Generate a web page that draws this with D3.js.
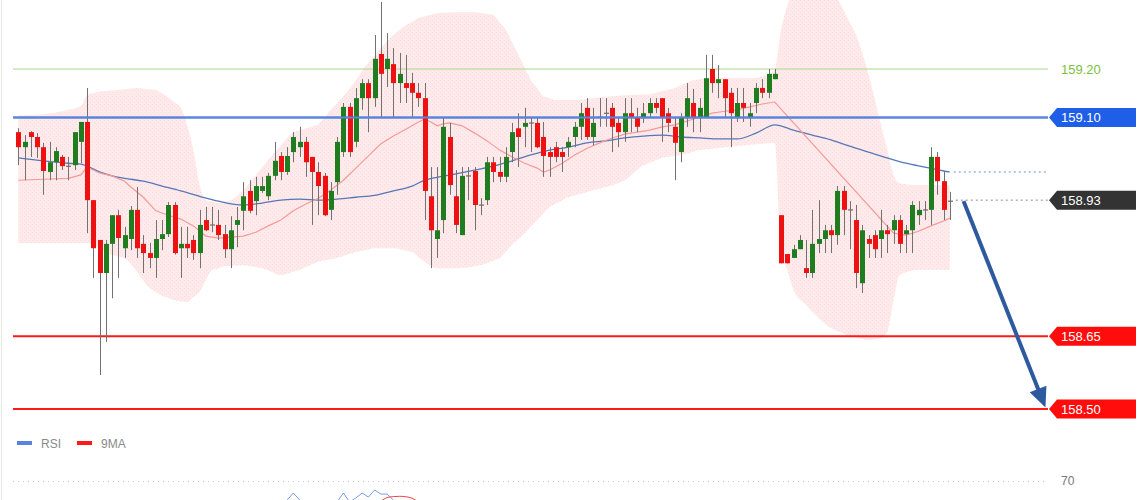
<!DOCTYPE html>
<html><head><meta charset="utf-8">
<script src="https://cdn.jsdelivr.net/npm/d3@7"></script>
<style>html,body{margin:0;padding:0;background:#fff;overflow:hidden}svg{display:block}</style>
</head><body>
<svg id="c" width="1140" height="500"></svg>
<script>
// ---- candles: [open, high, low, close]
const ohlc = [
[159.070,159.078,159.002,159.039],[159.039,159.064,158.971,159.050],[159.070,159.072,159.019,159.060],[159.060,159.068,159.017,159.039],
[159.039,159.048,158.941,158.990],[158.988,159.050,158.971,159.008],[159.008,159.039,158.971,159.031],[159.019,159.023,158.992,159.000],
[159.002,159.019,158.971,158.998],[159.002,159.070,158.992,159.070],[159.050,159.091,159.006,159.091],[159.091,159.161,158.862,158.930],
[158.930,158.930,158.770,158.831],[158.848,158.848,158.570,158.780],[158.780,158.848,158.638,158.840],[158.840,158.899,158.728,158.899],
[158.899,158.910,158.770,158.852],[158.831,158.875,158.811,158.858],[158.850,158.918,158.827,158.910],[158.910,158.957,158.811,158.831],
[158.840,158.858,158.780,158.821],[158.821,158.842,158.790,158.811],[158.811,158.889,158.770,158.850],[158.850,158.889,158.827,158.860],
[158.860,158.926,158.854,158.920],[158.920,158.926,158.818,158.821],[158.831,158.875,158.770,158.840],[158.840,158.875,158.811,158.831],
[158.848,158.858,158.807,158.821],[158.821,158.910,158.790,158.879],[158.889,158.916,158.866,158.868],[158.881,158.916,158.864,158.877],
[158.879,158.910,158.848,158.858],[158.860,158.879,158.811,158.829],[158.829,158.897,158.790,158.868],[158.879,158.916,158.833,158.889],
[158.908,158.967,158.868,158.938],[158.949,158.971,158.903,158.908],[158.928,158.978,158.899,158.959],[158.949,158.978,158.945,158.959],
[158.938,158.986,158.930,158.980],[158.980,159.050,158.971,159.011],[159.021,159.029,158.971,158.988],[158.988,159.039,158.982,159.021],
[159.029,159.070,159.008,159.060],[159.039,159.081,159.019,159.050],[159.050,159.060,158.978,159.008],[159.019,159.019,158.879,158.988],
[158.988,159.008,158.899,158.959],[158.980,158.986,158.897,158.899],[158.910,158.967,158.889,158.949],[158.967,159.060,158.941,159.050],
[159.029,159.130,159.019,159.122],[159.122,159.130,159.019,159.029],[159.050,159.161,159.039,159.140],[159.140,159.179,159.116,159.171],
[159.171,159.179,159.070,159.140],[159.140,159.270,159.122,159.221],[159.231,159.338,159.101,159.190],[159.200,159.274,159.163,159.221],
[159.210,159.243,159.101,159.171],[159.171,159.233,159.130,159.190],[159.171,159.229,159.130,159.161],[159.171,159.192,159.101,159.151],
[159.151,159.171,159.122,159.140],[159.140,159.171,158.889,158.949],[158.938,158.998,158.790,158.868],[158.850,158.998,158.811,158.868],
[158.889,159.099,158.862,159.081],[159.060,159.089,158.941,158.961],[158.938,158.992,158.862,158.879],[158.858,158.998,158.858,158.980],
[158.982,158.998,158.930,158.978],[158.990,158.998,158.868,158.920],[158.922,158.934,158.899,158.918],[158.930,159.019,158.920,159.008],
[159.008,159.019,158.967,158.988],[158.988,159.019,158.967,158.978],[158.978,159.039,158.967,159.019],[159.029,159.089,159.008,159.070],
[159.078,159.109,158.998,159.060],[159.081,159.120,159.039,159.089],[159.091,159.099,159.029,159.087],[159.089,159.099,159.037,159.039],
[159.060,159.091,158.978,159.021],[159.029,159.039,158.978,159.019],[159.039,159.050,159.008,159.019],[159.029,159.039,158.988,159.019],
[159.039,159.060,159.019,159.050],[159.060,159.091,159.039,159.081],[159.081,159.130,159.054,159.109],[159.120,159.140,159.054,159.060],
[159.060,159.120,159.043,159.089],[159.103,159.140,159.081,159.099],[159.111,159.140,159.081,159.107],[159.120,159.130,159.029,159.081],
[159.089,159.101,159.039,159.070],[159.070,159.140,159.050,159.109],[159.109,159.140,159.070,159.101],[159.101,159.120,159.070,159.081],
[159.101,159.130,159.089,159.109],[159.109,159.140,159.101,159.130],[159.130,159.140,159.109,159.120],[159.140,159.140,159.050,159.101],
[159.109,159.120,159.070,159.089],[159.081,159.101,158.971,159.048],[159.029,159.109,159.008,159.101],[159.101,159.171,159.081,159.140],
[159.130,159.159,159.070,159.101],[159.101,159.140,159.070,159.120],[159.101,159.229,159.101,159.181],[159.200,159.229,159.151,159.171],
[159.171,159.208,159.140,159.179],[159.179,159.179,159.101,159.140],[159.151,159.161,159.039,159.109],[159.101,159.161,159.091,159.130],
[159.130,159.161,159.091,159.120],[159.101,159.130,159.081,159.109],[159.130,159.171,159.109,159.161],[159.161,159.179,159.140,159.151],
[159.151,159.200,159.140,159.190],[159.179,159.200,159.179,159.190],[158.899,158.899,158.800,158.800],[158.819,158.819,158.800,158.800],
[158.811,158.838,158.811,158.829],[158.829,158.858,158.829,158.848],[158.790,158.848,158.770,158.780],[158.780,158.910,158.770,158.840],
[158.840,158.930,158.821,158.850],[158.850,158.879,158.821,158.868],[158.868,158.879,158.821,158.858],[158.858,158.959,158.838,158.949],
[158.949,158.959,158.858,158.910],[158.912,158.928,158.829,158.908],[158.889,158.920,158.749,158.780],[158.759,158.879,158.739,158.868],
[158.850,158.858,158.811,158.840],[158.858,158.868,158.811,158.829],[158.850,158.910,158.811,158.868],[158.868,158.879,158.821,158.860],
[158.868,158.899,158.840,158.889],[158.889,158.899,158.821,158.840],[158.860,158.879,158.821,158.868],[158.868,158.928,158.821,158.920],
[158.899,158.928,158.879,158.910],[158.912,158.928,158.889,158.908],[158.910,159.039,158.879,159.019],[159.019,159.029,158.941,158.969],
[158.969,158.988,158.889,158.910],[158.930,158.947,158.889,158.926]
];

// ---- middle band average (red) sampled at candle indices
const midIdx = [0,4,8,10,11,12,13,15,17,18,20,22,24,26,28,30,32,34,36,38,40,42,44,46,48,50,52,54,56,58,60,62,64,65,66,67,68,69,71,73,75,77,79,81,83,84,85,87,89,91,93,95,97,99,101,103,105,107,109,111,113,115,117,119,121,140,142,144,146,148,149];
const midVal = [158.971,158.973,158.975,158.982,158.998,158.992,158.986,158.980,158.969,158.957,158.936,158.908,158.899,158.891,158.877,158.856,158.852,158.854,158.856,158.864,158.877,158.889,158.908,158.922,158.934,158.951,158.971,158.996,159.021,159.046,159.062,159.076,159.091,159.097,159.091,159.083,159.087,159.089,159.083,159.068,159.052,159.033,159.019,159.006,158.996,158.988,158.992,159.006,159.023,159.037,159.048,159.058,159.066,159.070,159.074,159.081,159.085,159.093,159.101,159.109,159.113,159.116,159.122,159.128,159.132,158.862,158.858,158.866,158.877,158.887,158.893];

// ---- long moving average (blue)
const maIdx = [0,4,8,10,11,13,15,17,20,23,26,29,32,36,39,42,45,48,51,54,57,60,63,65,67,70,73,76,79,82,85,88,91,94,97,100,103,106,109,112,115,118,121,124,127,130,133,136,139,142,145,148,149];
const maVal = [159.017,159.011,159.006,159.004,159.000,158.988,158.980,158.975,158.969,158.959,158.949,158.938,158.928,158.920,158.924,158.930,158.932,158.930,158.932,158.936,158.940,158.949,158.959,158.971,158.977,158.984,158.992,159.000,159.011,159.023,159.033,159.039,159.048,159.052,159.058,159.062,159.064,159.060,159.058,159.056,159.056,159.068,159.085,159.074,159.064,159.054,159.041,159.029,159.017,159.006,158.998,158.990,158.988];

// ---- envelope band
const upIdx = [0,4,8,10,11,13,16,19,22,24,26,27,28,29,30,32,34,36,38,40,42,44,46,48,50,52,54,56,58,60,62,64,67,70,73,76,78,80,82,84,86,89,93,97,101,105,108,111,114,117,120,121,122,123,124,130,132,134,136,138,140,141,144,149];
const upVal = [159.105,159.107,159.116,159.124,159.146,159.153,159.157,159.161,159.157,159.142,159.120,159.085,159.033,158.961,158.930,158.924,158.930,158.951,158.982,159.013,159.043,159.070,159.078,159.087,159.116,159.144,159.177,159.214,159.243,159.270,159.290,159.305,159.315,159.317,159.317,159.311,159.280,159.229,159.177,159.144,159.136,159.136,159.142,159.146,159.148,159.161,159.177,159.183,159.181,159.181,159.188,159.198,159.280,159.330,159.360,159.360,159.321,159.270,159.188,159.085,158.982,158.965,158.961,158.961];
const loIdx = [0,4,8,11,13,15,17,19,21,23,25,27,29,30,31,33,36,39,42,45,48,51,54,57,60,63,65,67,70,73,75,77,79,81,83,85,88,91,94,97,100,103,106,109,113,117,121,122,124,126,128,130,133,136,138,139,140,141,144,149];
const loVal = [158.842,158.842,158.842,158.842,158.831,158.817,158.811,158.782,158.749,158.733,158.724,158.720,158.741,158.765,158.786,158.794,158.796,158.790,158.776,158.786,158.803,158.811,158.823,158.831,158.831,158.823,158.803,158.790,158.790,158.794,158.800,158.811,158.838,158.862,158.889,158.916,158.936,158.947,158.957,158.971,159.002,159.017,159.023,159.033,159.039,159.044,159.048,158.827,158.745,158.714,158.687,158.667,158.650,158.642,158.646,158.658,158.724,158.776,158.786,158.786];

// ---- price levels
const levels = [159.20, 159.10, 158.93, 158.65, 158.50];
const levelLabels = ["159.20", "159.10", "158.93", "158.65", "158.50"];
const levelKinds = ["text", "box", "box", "box", "box"];
const levelColors = ["#7cbf3a", "#1f5fe8", "#333333", "#ff0d0d", "#ff0d0d"];
const levelLines = ["full", "full", "dot", "full", "full"];

// ---- arrow (index, price)
const arrowFrom = [151.2, 158.928];
const arrowTo = [164.3, 158.503];

// ---- RSI panel (only upper part visible)
const rsiIdx = [0,20,36,42,43,44,45,47,50,51,52,53,54,55,56,57,58,59,60,62,66,90,120,149];
const rsiVal = [48,38,46,53,57.3,62,57.3,52,50,56,62,56,58.7,62,59.3,64,61.3,61.3,57.3,53,40,50,52,48];
const rsiMaIdx = [0,40,50,56,58,59,60,61,62,63,64,66,90,149];
const rsiMaVal = [45,45,50,54,56.5,59,59.6,59.8,59.5,58.5,56,50,48,46];
const rsiTicks = [70];
const legendItems = ["RSI", "9MA"];
const legendColors = ["#5b82e0", "#ff1a1a"];

// ================= drawing
const svg = d3.select("#c");
const W = 1140, H = 500;
const plotL = 13, plotR = 1048;
const x = d3.scaleLinear().domain([0, ohlc.length - 1]).range([18.3, 949.8]);
const y = d3.scaleLinear().domain([159.20, 158.50]).range([69, 409]);
const rsiY = d3.scaleLinear().domain([70, 30]).range([481, 541]);

const defs = svg.append("defs");
const pat = defs.append("pattern").attr("id", "dots").attr("width", 4).attr("height", 4).attr("patternUnits", "userSpaceOnUse");
pat.append("rect").attr("width", 4).attr("height", 4).attr("fill", "#feeaea");
pat.append("rect").attr("x", 0).attr("y", 0).attr("width", 1).attr("height", 1).attr("fill", "#fbdcdc");
pat.append("rect").attr("x", 2).attr("y", 2).attr("width", 1).attr("height", 1).attr("fill", "#fbdcdc");

// left frame line
svg.append("line").attr("x1", 1.5).attr("x2", 1.5).attr("y1", 0).attr("y2", H).attr("stroke", "#e3ebe3").attr("stroke-width", 1);

// band
const upF = d3.scaleLinear().domain(upIdx).range(upVal);
const loF = d3.scaleLinear().domain(loIdx).range(loVal);
const bandPts = upIdx.concat(loIdx).filter((v, i, a) => a.indexOf(v) === i).sort((a, b) => a - b);
svg.append("path")
  .datum(bandPts)
  .attr("d", d3.area().x(d => x(d)).y0(d => y(loF(d))).y1(d => y(upF(d))).curve(d3.curveMonotoneX))
  .attr("fill", "url(#dots)");

// MA lines
svg.append("path").datum(maIdx.map((d, i) => [d, maVal[i]]))
  .attr("d", d3.line().x(d => x(d[0])).y(d => y(d[1])).curve(d3.curveMonotoneX))
  .attr("fill", "none").attr("stroke", "#5677b8").attr("stroke-width", 1.3);
svg.append("path").datum(midIdx.map((d, i) => [d, midVal[i]]))
  .attr("d", d3.line().x(d => x(d[0])).y(d => y(d[1])).curve(d3.curveLinear))
  .attr("fill", "none").attr("stroke", "#f39a9a").attr("stroke-width", 1.2);

// level lines under candles
const levelG = svg.append("g");
levels.forEach((lv, i) => {
  if (levelLines[i] === "full") {
    levelG.append("line").attr("x1", plotL).attr("x2", plotR).attr("y1", y(lv)).attr("y2", y(lv))
      .attr("stroke", i === 0 ? "#a9d68a" : (i === 1 ? "#5b85dd" : "#ff1a1a"))
      .attr("stroke-width", i === 0 ? 1 : 2);
  }
});

// extension dotted lines
svg.append("line").attr("x1", x(ohlc.length - 1) + 4).attr("x2", plotR)
  .attr("y1", y(maVal[maVal.length - 1])).attr("y2", y(maVal[maVal.length - 1]))
  .attr("stroke", "#6d8fd0").attr("stroke-width", 1).attr("stroke-dasharray", "2,3");
svg.append("line").attr("x1", x(ohlc.length - 1) + 6).attr("x2", plotR)
  .attr("y1", y(levels[2])).attr("y2", y(levels[2]))
  .attr("stroke", "#8a8a8a").attr("stroke-width", 1).attr("stroke-dasharray", "2,3");

// candles
const cg = svg.append("g");
ohlc.forEach((d, i) => {
  const [o, h, l, c] = d;
  const cx = Math.round(x(i)) + 0.5;
  const doji = Math.abs(o - c) <= 0.005;
  cg.append("line").attr("x1", cx).attr("x2", cx).attr("y1", y(h)).attr("y2", y(l))
    .attr("stroke", "#737070").attr("stroke-width", 1);
  if (doji) {
    cg.append("rect").attr("x", cx - 2.5).attr("y", y((o + c) / 2) - 0.5).attr("width", 5).attr("height", 1.2).attr("fill", "#6d6d6d");
  } else {
    const top = y(Math.max(o, c)), bot = y(Math.min(o, c));
    cg.append("rect").attr("x", cx - 2.5).attr("y", top).attr("width", 5).attr("height", Math.max(1, bot - top))
      .attr("fill", c > o ? "#1f7d1f" : "#ee1111");
  }
});

// blue level over candles
svg.append("line").attr("x1", plotL).attr("x2", plotR).attr("y1", y(levels[1])).attr("y2", y(levels[1]))
  .attr("stroke", "#5b85dd").attr("stroke-width", 2);

// labels
levels.forEach((lv, i) => {
  const yc = y(lv);
  if (levelKinds[i] === "text") {
    svg.append("text").attr("x", 1061).attr("y", yc + 4.5).text(levelLabels[i])
      .attr("fill", levelColors[i]).attr("font-family", "Liberation Sans, Arial, sans-serif").attr("font-size", 13);
  } else {
    const x0 = plotR + 1, x1 = 1136, hh = 9.5;
    svg.append("path").attr("d", `M${x0},${yc} L${x0 + 8},${yc - hh} L${x1},${yc - hh} L${x1},${yc + hh} L${x0 + 8},${yc + hh} Z`)
      .attr("fill", levelColors[i]);
    svg.append("text").attr("x", 1061).attr("y", yc + 4.5).text(levelLabels[i])
      .attr("fill", "#fff").attr("font-family", "Liberation Sans, Arial, sans-serif").attr("font-size", 13);
  }
});

// arrow
const ax0 = x(arrowFrom[0]), ay0 = y(arrowFrom[1]), ax1 = x(arrowTo[0]), ay1 = y(arrowTo[1]);
const ang = Math.atan2(ay1 - ay0, ax1 - ax0);
const headL = 20, headW = 9;
const bx = ax1 - headL * Math.cos(ang), by = ay1 - headL * Math.sin(ang);
svg.append("line").attr("x1", ax0).attr("y1", ay0).attr("x2", bx + 2 * Math.cos(ang)).attr("y2", by + 2 * Math.sin(ang))
  .attr("stroke", "#2d5a9f").attr("stroke-width", 4);
svg.append("path").attr("d", `M${ax1},${ay1} L${bx + headW * Math.sin(ang)},${by - headW * Math.cos(ang)} L${bx - headW * Math.sin(ang)},${by + headW * Math.cos(ang)} Z`)
  .attr("fill", "#2d5a9f");

// legend
const lg = svg.append("g");
legendItems.forEach((t, i) => {
  const lx = 17 + i * 60;
  lg.append("rect").attr("x", lx).attr("y", 441).attr("width", 15).attr("height", 4).attr("fill", legendColors[i]);
  lg.append("text").attr("x", lx + 24).attr("y", 447.5).text(t).attr("fill", "#8a8a8a")
    .attr("font-family", "Liberation Sans, Arial, sans-serif").attr("font-size", 12);
});

// RSI panel
rsiTicks.forEach(t => {
  svg.append("line").attr("x1", plotL).attr("x2", plotR).attr("y1", rsiY(t) + 0.5).attr("y2", rsiY(t) + 0.5)
    .attr("stroke", "#c8c8c8").attr("stroke-width", 1).attr("stroke-dasharray", "1,4");
  svg.append("text").attr("x", 1061).attr("y", rsiY(t) + 4).text(t).attr("fill", "#777")
    .attr("font-family", "Liberation Sans, Arial, sans-serif").attr("font-size", 12);
});
svg.append("path").datum(rsiIdx.map((d, i) => [d, rsiVal[i]]))
  .attr("d", d3.line().x(d => x(d[0])).y(d => rsiY(d[1])))
  .attr("fill", "none").attr("stroke", "#7b9be6").attr("stroke-width", 1);
svg.append("path").datum(rsiMaIdx.map((d, i) => [d, rsiMaVal[i]]))
  .attr("d", d3.line().x(d => x(d[0])).y(d => rsiY(d[1])).curve(d3.curveMonotoneX))
  .attr("fill", "none").attr("stroke", "#ee4444").attr("stroke-width", 1);
</script>
</body></html>
